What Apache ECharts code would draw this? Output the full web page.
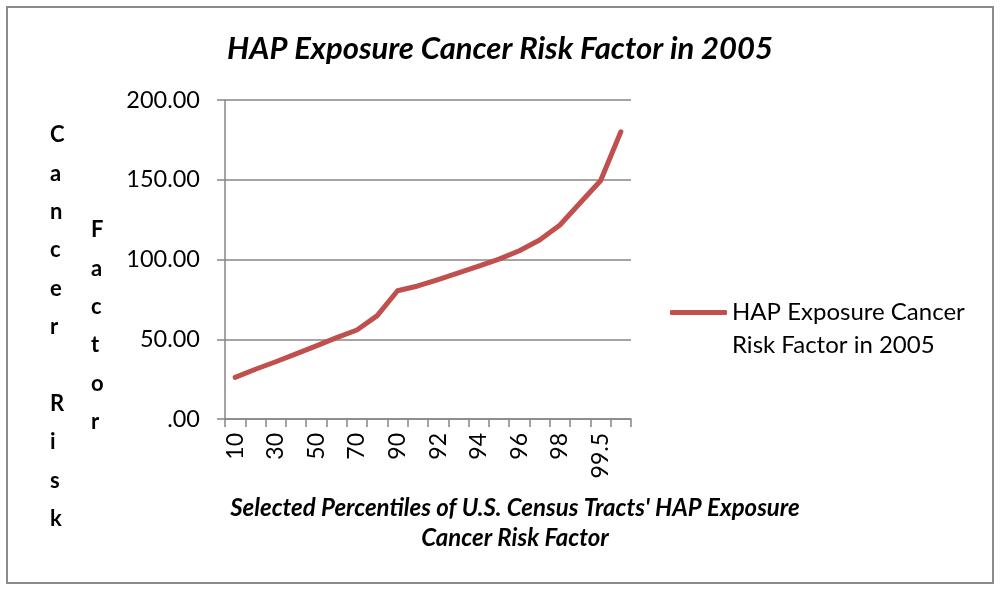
<!DOCTYPE html>
<html>
<head>
<meta charset="utf-8">
<script src="https://cdn.jsdelivr.net/npm/echarts@6/dist/echarts.min.js"></script>
<style>
  html, body { margin: 0; padding: 0; background: #fff; }
  #chart { width: 1000px; height: 592px; }
</style>
</head>
<body>
<div id="chart"></div>
<script>
// percentile categories (every other one is labelled)
const percentiles = ['10', '20', '30', '40', '50', '60', '70', '80', '90', '91',
  '92', '93', '94', '95', '96', '97', '98', '99', '99.5', '99.9'];
// cancer risk factor values
const riskValues = [26.1, 31.2, 35.9, 40.8, 45.8, 51.0, 55.8, 64.8, 80.4, 83.4,
  87.4, 91.6, 95.9, 100.2, 105.5, 112.2, 121.6, 135.6, 149.4, 180.1];
const yTicks = [0, 50, 100, 150, 200];

const seriesName = 'HAP Exposure Cancer Risk Factor in 2005';
const font = 'Lato, "Open Sans", sans-serif';

const chart = echarts.init(document.getElementById('chart'));

chart.setOption({
  backgroundColor: '#fff',
  animation: false,
  title: {
    text: 'HAP Exposure Cancer Risk Factor in 2005',
    left: 'center',
    top: 28,
    textStyle: {
      fontFamily: font,
      fontSize: 31,
      fontWeight: 'bold',
      fontStyle: 'italic',
      color: '#000'
    }
  },
  legend: {
    left: 665,
    top: 258,
    itemWidth: 57,
    itemHeight: 5,
    itemGap: 0,
    icon: 'roundRect',
    // blank first line keeps the icon level with the first text line
    formatter: () => ' \nHAP Exposure Cancer\nRisk Factor in 2005',
    textStyle: {
      fontFamily: font,
      fontSize: 24,
      color: '#000',
      lineHeight: 33
    },
    itemStyle: { color: '#C0504D' }
  },
  grid: {
    left: 225,
    right: 369,
    top: 100,
    bottom: 173
  },
  xAxis: {
    type: 'category',
    data: percentiles,
    boundaryGap: true,
    name: "Selected Percentiles of U.S. Census Tracts' HAP Exposure\nCancer Risk Factor",
    nameLocation: 'middle',
    nameGap: 74,
    nameTextStyle: {
      fontFamily: font,
      fontSize: 24,
      fontWeight: 'bold',
      fontStyle: 'italic',
      color: '#000',
      lineHeight: 30,
      padding: [0, 0, 0, 174]
    },
    axisLine: { lineStyle: { color: '#868686', width: 1.5 } },
    axisTick: {
      show: true,
      alignWithLabel: false,
      interval: 0,
      length: 8,
      lineStyle: { color: '#868686', width: 1.5 }
    },
    axisLabel: {
      interval: 1,
      rotate: 90,
      margin: 14,
      fontFamily: font,
      fontSize: 23,
      color: '#000'
    },
    splitLine: { show: false }
  },
  yAxis: {
    type: 'value',
    min: yTicks[0],
    max: yTicks[yTicks.length - 1],
    interval: 50,
    axisLine: { show: true, lineStyle: { color: '#868686', width: 1.5 } },
    axisTick: { show: true, length: 8, lineStyle: { color: '#868686', width: 1.5 } },
    axisLabel: {
      margin: 25,
      fontFamily: font,
      fontSize: 23.5,
      color: '#000',
      formatter: v => v === 0 ? '.00' : v.toFixed(2)
    },
    splitLine: { lineStyle: { color: '#868686', width: 1.5 } }
  },
  series: [{
    name: seriesName,
    type: 'line',
    data: riskValues,
    symbol: 'none',
    lineStyle: { color: '#C0504D', width: 5, cap: 'round', join: 'round' },
    itemStyle: { color: '#C0504D' }
  }],
  graphic: [
    {
      type: 'rect',
      shape: { x: 7, y: 7, width: 986, height: 576 },
      style: { fill: 'none', stroke: '#8a8a8a', lineWidth: 2 },
      silent: true
    },
    {
      type: 'text',
      left: 50,
      top: 116,
      style: {
        text: 'C\na\nn\nc\ne\nr\n \nR\ni\ns\nk',
        fontFamily: font,
        fontSize: 22,
        fontWeight: 'bold',
        lineHeight: 38.4,
        align: 'center',
        fill: '#000'
      }
    },
    {
      type: 'text',
      left: 91,
      top: 211,
      style: {
        text: 'F\na\nc\nt\no\nr',
        fontFamily: font,
        fontSize: 22,
        fontWeight: 'bold',
        lineHeight: 38.4,
        align: 'center',
        fill: '#000'
      }
    }
  ]
});
</script>
</body>
</html>
